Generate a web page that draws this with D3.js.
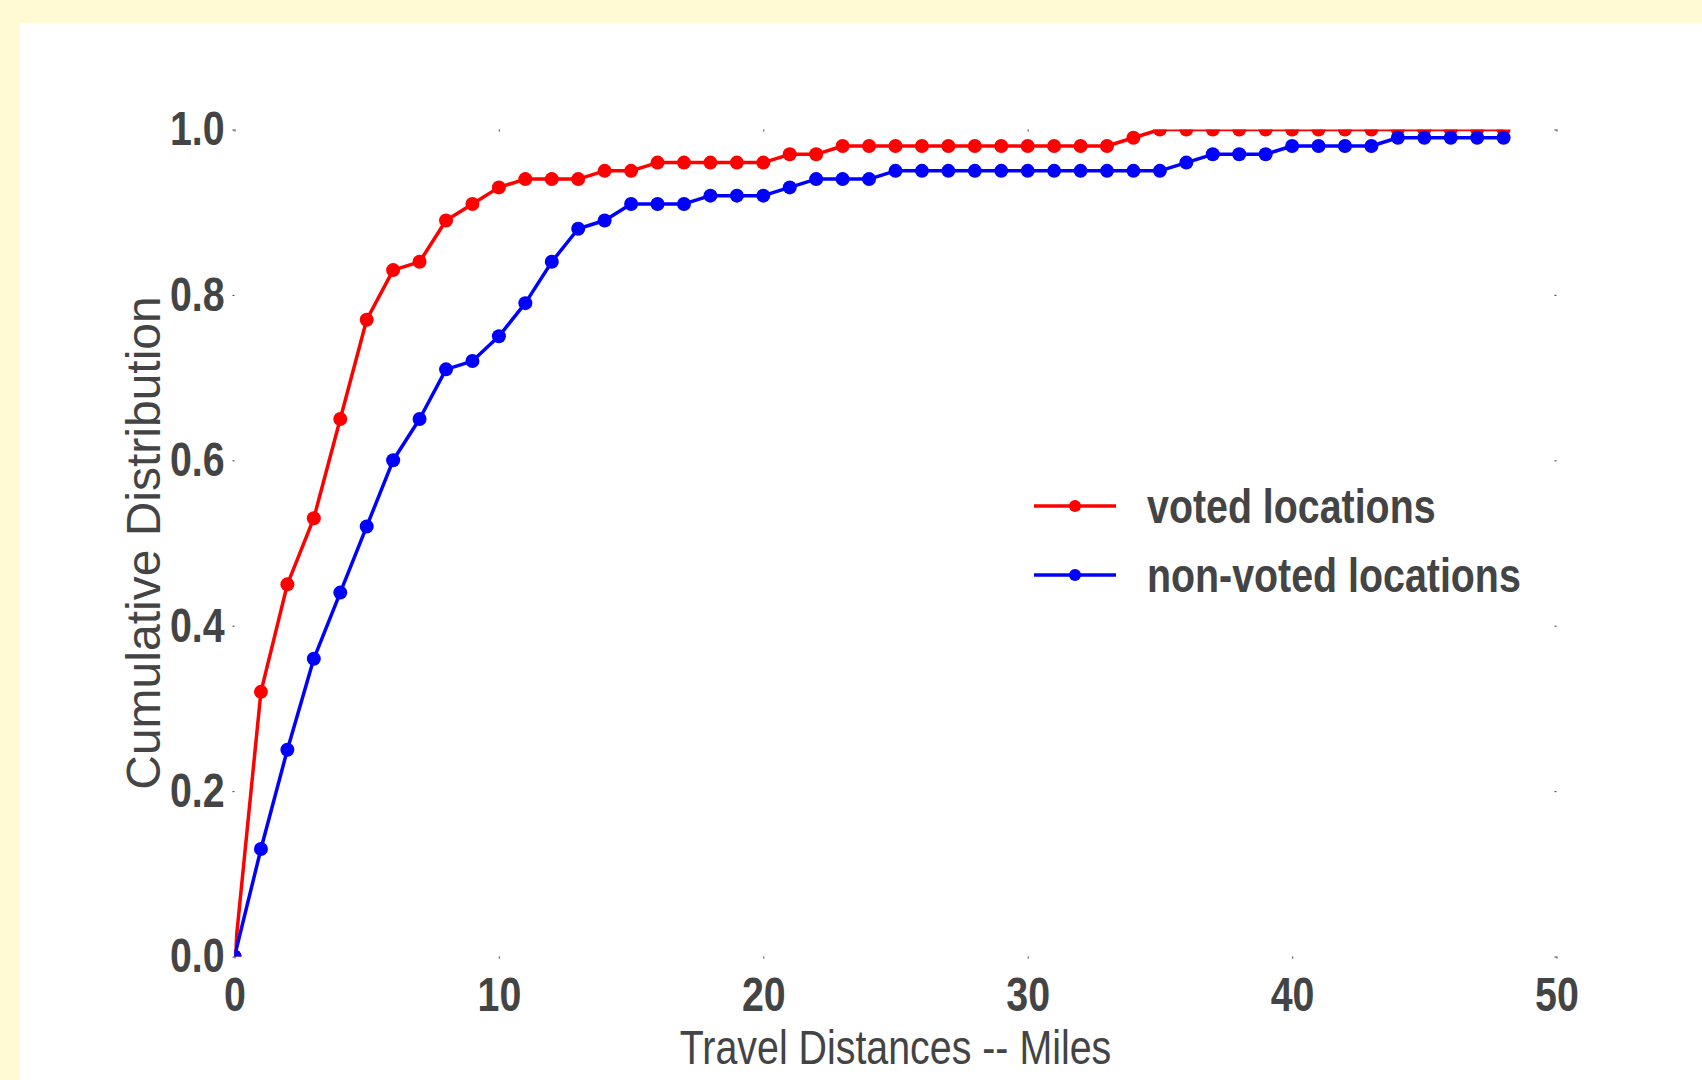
<!DOCTYPE html>
<html>
<head>
<meta charset="utf-8">
<script src="https://cdn.jsdelivr.net/npm/d3@7"></script>
<style>
  body { margin: 0; background: #fffad4; }
  .tick-label { font-family: "Liberation Sans", Arial, sans-serif; font-weight: bold; font-size: 48px; fill: #444; }
  .axis-label { font-family: "Liberation Sans", Arial, sans-serif; font-size: 48px; fill: #444; }
  .y-label { font-family: "Liberation Sans", Arial, sans-serif; font-size: 48px; fill: #444; }
  .legend-text { font-family: "Liberation Sans", Arial, sans-serif; font-weight: bold; font-size: 48px; fill: #444; }
</style>
</head>
<body>
<div id="chart"></div>
<script>
const distances = d3.range(0, 49);

const voted = [
  0, 0.32, 0.45, 0.53, 0.65, 0.77, 0.83, 0.84, 0.89, 0.91,
  0.93, 0.94, 0.94, 0.94, 0.95, 0.95, 0.96, 0.96, 0.96, 0.96,
  0.96, 0.97, 0.97, 0.98, 0.98, 0.98, 0.98, 0.98, 0.98, 0.98,
  0.98, 0.98, 0.98, 0.98, 0.99, 1.0, 1.0, 1.0, 1.0, 1.0,
  1.0, 1.0, 1.0, 1.0, 1.0, 1.0, 1.0, 1.0, 1.0
];

const nonVoted = [
  0, 0.13, 0.25, 0.36, 0.44, 0.52, 0.60, 0.65, 0.71, 0.72,
  0.75, 0.79, 0.84, 0.88, 0.89, 0.91, 0.91, 0.91, 0.92, 0.92,
  0.92, 0.93, 0.94, 0.94, 0.94, 0.95, 0.95, 0.95, 0.95, 0.95,
  0.95, 0.95, 0.95, 0.95, 0.95, 0.95, 0.96, 0.97, 0.97, 0.97,
  0.98, 0.98, 0.98, 0.98, 0.99, 0.99, 0.99, 0.99, 0.99
];

const xTicks = [0, 10, 20, 30, 40, 50];
const yTicks = [0, 0.2, 0.4, 0.6, 0.8, 1.0];

const series = [
  {name: "voted locations", color: "#ff0000", values: voted},
  {name: "non-voted locations", color: "#0000ff", values: nonVoted}
];

const W = 1702, H = 1080;
const plot = {left: 234.5, right: 1556.5, top: 129.5, bottom: 956.5};
const narrow = 0.82;   // no narrow font installed, squeeze horizontally

const svg = d3.select("#chart")
  .append("svg")
  .attr("width", W)
  .attr("height", H)
  .style("display", "block");

// white panel on the yellow page
svg.append("rect")
  .attr("x", 20).attr("y", 23)
  .attr("width", W - 20).attr("height", H - 23)
  .attr("fill", "#ffffff");

const x = d3.scaleLinear().domain([0, 50]).range([plot.left, plot.right]);
const y = d3.scaleLinear().domain([0, 1]).range([plot.bottom, plot.top]);

// tiny tick marks on all four sides, no spines
function ticksOnly(g) {
  g.select(".domain").remove();
  g.selectAll(".tick line").attr("stroke", "#555").attr("stroke-width", 1.2);
  g.selectAll(".tick text")
    .attr("class", "tick-label")
    .attr("fill", null)
    .attr("transform", `scale(${narrow},1)`);
  g.attr("font-family", null).attr("font-size", null);
}

svg.append("g")
  .attr("transform", `translate(0, ${plot.bottom})`)
  .call(d3.axisBottom(x).tickValues(xTicks).tickSize(2).tickPadding(18).tickFormat(d3.format("d")))
  .call(ticksOnly);

svg.append("g")
  .attr("transform", `translate(0, ${plot.top})`)
  .call(d3.axisBottom(x).tickValues(xTicks).tickSize(2).tickFormat(""))
  .call(ticksOnly);

svg.append("g")
  .attr("transform", `translate(${plot.left}, 0)`)
  .call(d3.axisLeft(y).tickValues(yTicks).tickSize(2).tickPadding(10).tickFormat(d3.format(".1f")))
  .call(ticksOnly);

svg.append("g")
  .attr("transform", `translate(${plot.right}, 0)`)
  .call(d3.axisLeft(y).tickValues(yTicks).tickSize(2).tickFormat(""))
  .call(ticksOnly);

// axis titles
svg.append("text")
  .attr("class", "axis-label")
  .attr("text-anchor", "middle")
  .attr("transform", `translate(${(plot.left + plot.right) / 2}, 1064) scale(${narrow},1)`)
  .text("Travel Distances -- Miles");

svg.append("text")
  .attr("class", "y-label")
  .attr("text-anchor", "middle")
  .attr("transform", `translate(160, ${(plot.top + plot.bottom) / 2}) rotate(-90)`)
  .text("Cumulative Distribution");

// clip the lines to the axes box
svg.append("clipPath")
  .attr("id", "plot-clip")
  .append("rect")
  .attr("x", plot.left).attr("y", plot.top)
  .attr("width", plot.right - plot.left)
  .attr("height", plot.bottom - plot.top);

const line = d3.line()
  .x((d, i) => x(distances[i]))
  .y(d => y(d));

const plotG = svg.append("g").attr("clip-path", "url(#plot-clip)");

series.forEach(s => {
  plotG.append("path")
    .datum(s.values)
    .attr("fill", "none")
    .attr("stroke", s.color)
    .attr("stroke-width", 3.5)
    .attr("stroke-linejoin", "round")
    .attr("d", line);

  plotG.append("g")
    .selectAll("circle")
    .data(s.values)
    .enter()
    .append("circle")
      .attr("cx", (d, i) => x(distances[i]))
      .attr("cy", d => y(d))
      .attr("r", 7)
      .attr("fill", s.color);
});

// legend
const legend = svg.append("g");
series.forEach((s, i) => {
  const ly = 506 + i * 69;
  legend.append("line")
    .attr("x1", 1034).attr("x2", 1116)
    .attr("y1", ly).attr("y2", ly)
    .attr("stroke", s.color)
    .attr("stroke-width", 3.5);
  legend.append("circle")
    .attr("cx", 1075).attr("cy", ly)
    .attr("r", 6)
    .attr("fill", s.color);
  legend.append("text")
    .attr("class", "legend-text")
    .attr("transform", `translate(1147, ${ly}) scale(${narrow},1)`)
    .attr("dy", "0.35em")
    .text(s.name);
});
</script>
</body>
</html>
